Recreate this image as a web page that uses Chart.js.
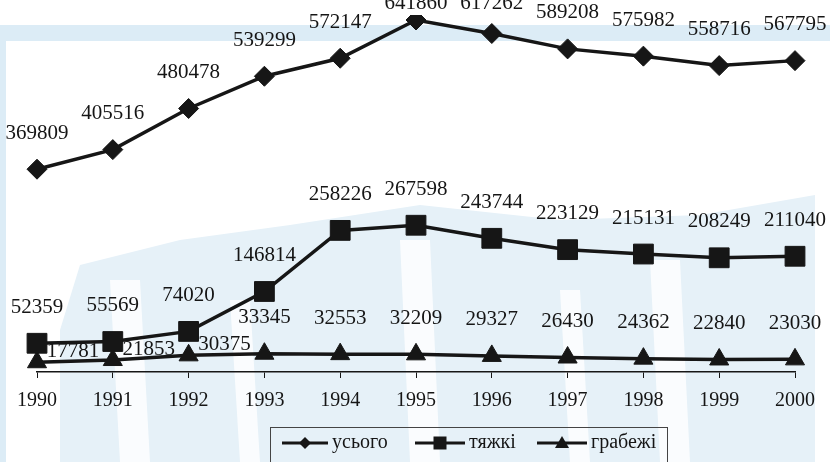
<!DOCTYPE html>
<html>
<head>
<meta charset="utf-8">
<script src="https://cdn.jsdelivr.net/npm/chart.js@4.4.1/dist/chart.umd.min.js"></script>
<style>
  html, body { margin: 0; padding: 0; background: #fff; }
  #wrap { width: 830px; height: 462px; position: relative; }
</style>
</head>
<body>
<div id="wrap"><canvas id="chart" width="830" height="462"></canvas></div>
<script>
// ──── дані ──────────────────────────────────────────────
const years = ["1990", "1991", "1992", "1993", "1994", "1995", "1996", "1997", "1998", "1999", "2000"];
const totalCrimes = [369809, 405516, 480478, 539299, 572147, 641860, 617262, 589208, 575982, 558716, 567795];
const graveCrimes = [52359, 55569, 74020, 146814, 258226, 267598, 243744, 223129, 215131, 208249, 211040];
const robberies = [17781, 21853, 30375, 33345, 32553, 32209, 29327, 26430, 24362, 22840, 23030];

const INK = "#161616";
const TEXT = "#151515";
const SERIF = "'Liberation Serif', 'Times New Roman', serif";

// фонова "водяна" підкладка (тризуб, дуже приблизно)
const watermark = {
  id: "watermark",
  beforeDraw(chart) {
    const ctx = chart.ctx;
    ctx.save();
    ctx.fillStyle = "#ffffff";
    ctx.fillRect(0, 0, chart.width, chart.height);
    ctx.fillStyle = "#dcecf6";
    ctx.fillRect(0, 25, chart.width, 16);
    ctx.fillRect(0, 25, 6, chart.height);
    ctx.fillStyle = "#e6f1f8";
    ctx.beginPath();
    ctx.moveTo(60, 330); ctx.lineTo(80, 265); ctx.lineTo(180, 240); ctx.lineTo(290, 225);
    ctx.lineTo(420, 205); ctx.lineTo(560, 220); ctx.lineTo(700, 215);
    ctx.lineTo(815, 195); ctx.lineTo(815, 462); ctx.lineTo(60, 462);
    ctx.closePath();
    ctx.fill();
    ctx.fillStyle = "rgba(255,255,255,0.8)";
    [[110, 280, 140, 462], [230, 300, 250, 462], [400, 240, 430, 462], [560, 290, 580, 462], [650, 260, 680, 462]]
      .forEach(([x1, y1, x2, y2]) => {
        ctx.beginPath();
        ctx.moveTo(x1, y1); ctx.lineTo(x2, y1); ctx.lineTo(x2 + 10, y2); ctx.lineTo(x1 + 10, y2);
        ctx.closePath();
        ctx.fill();
      });
    ctx.restore();
  },
};

// підписи значень над точками
const valueLabels = {
  id: "valueLabels",
  afterDatasetsDraw(chart) {
    const ctx = chart.ctx;
    ctx.save();
    ctx.font = `21px ${SERIF}`;
    ctx.fillStyle = TEXT;
    ctx.textAlign = "center";
    ctx.textBaseline = "middle";
    chart.data.datasets.forEach((ds, di) => {
      const meta = chart.getDatasetMeta(di);
      meta.data.forEach((pt, i) => {
        const shift = ds.labelShift ? ds.labelShift(i) : { dx: 0, dy: -36 };
        const y = Math.max(pt.y + shift.dy, 3);
        ctx.fillText(String(ds.data[i]), pt.x + shift.dx, y);
      });
    });
    ctx.restore();
  },
};

// легенда в рамці, як в Excel
const boxLegend = {
  id: "boxLegend",
  afterDraw(chart) {
    const ctx = chart.ctx;
    ctx.save();
    ctx.strokeStyle = "#444";
    ctx.lineWidth = 1;
    ctx.strokeRect(270.5, 427.5, 397, 50);
    const items = [
      { x1: 282, x2: 328, style: "diamond" },
      { x1: 415, x2: 465, style: "square" },
      { x1: 537, x2: 587, style: "triangle" },
    ];
    const y = 443;
    ctx.font = `20px ${SERIF}`;
    ctx.textBaseline = "middle";
    ctx.textAlign = "left";
    items.forEach((it, i) => {
      ctx.strokeStyle = INK;
      ctx.fillStyle = INK;
      ctx.lineWidth = 3;
      ctx.beginPath();
      ctx.moveTo(it.x1, y); ctx.lineTo(it.x2, y);
      ctx.stroke();
      const cx = (it.x1 + it.x2) / 2;
      ctx.beginPath();
      if (it.style === "diamond") {
        ctx.moveTo(cx, y - 6); ctx.lineTo(cx + 6, y); ctx.lineTo(cx, y + 6); ctx.lineTo(cx - 6, y);
      } else if (it.style === "square") {
        ctx.rect(cx - 6.5, y - 6.5, 13, 13);
      } else {
        ctx.moveTo(cx, y - 7); ctx.lineTo(cx + 7, y + 5); ctx.lineTo(cx - 7, y + 5);
      }
      ctx.closePath();
      ctx.fill();
      ctx.fillStyle = TEXT;
      ctx.fillText(chart.data.datasets[i].label, it.x2 + 4, y);
    });
    ctx.restore();
  },
};

const lineDs = (label, data, pointStyle, radius) => ({
  label,
  data,
  borderColor: INK,
  backgroundColor: INK,
  borderWidth: 3.5,
  pointStyle,
  pointRadius: radius,
  pointHoverRadius: radius,
  pointBorderWidth: 1,
  pointBorderColor: INK,
  pointBackgroundColor: INK,
  tension: 0,
});

const ds1 = lineDs("усього", totalCrimes, "rectRot", 10);
const ds2 = lineDs("тяжкі", graveCrimes, "rect", 14);
const ds3 = lineDs("грабежі", robberies, "triangle", 11);
ds3.labelShift = (i) => (i < 3 ? { dx: 36, dy: -11 } : { dx: 0, dy: -36 });

new Chart(document.getElementById("chart").getContext("2d"), {
  type: "line",
  data: { labels: years, datasets: [ds1, ds2, ds3] },
  options: {
    responsive: false,
    animation: false,
    layout: { padding: { top: 2, left: 37, right: 35, bottom: 38 } },
    plugins: { legend: { display: false }, tooltip: { enabled: false } },
    scales: {
      x: {
        offset: false,
        grid: { display: true, drawOnChartArea: false, drawTicks: true, tickLength: 6, color: INK },
        border: { display: true, color: INK, width: 1.5 },
        ticks: { color: TEXT, font: { family: SERIF, size: 20 }, padding: 11, maxRotation: 0, autoSkip: false },
      },
      y: {
        display: false,
        min: 0,
        max: 651000,
      },
    },
  },
  plugins: [watermark, valueLabels, boxLegend],
});
</script>
</body>
</html>
